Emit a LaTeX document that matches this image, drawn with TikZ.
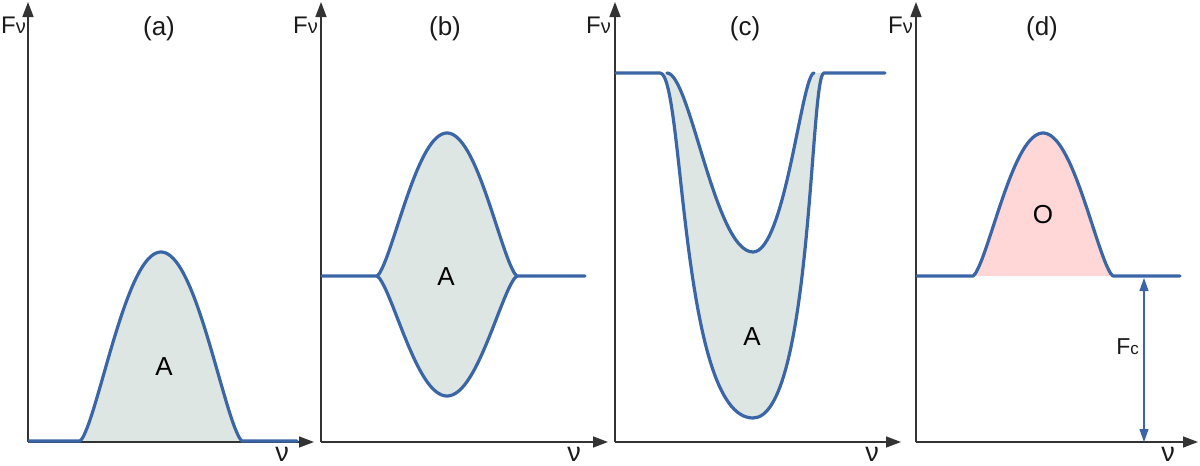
\documentclass[tikz,border=0pt]{standalone}
\usepackage{fontspec}
\setmainfont{Liberation Sans}
\usetikzlibrary{arrows.meta}
\definecolor{lineblue}{HTML}{3A66A7}
\definecolor{fillgrey}{HTML}{DEE6E3}
\definecolor{fillpink}{HTML}{FFD7D7}
\definecolor{axisgrey}{HTML}{333333}
\definecolor{txt}{HTML}{1A1A1A}
\begin{document}
\begin{tikzpicture}[x=1pt,y=-1pt,
  axisline/.style={draw=axisgrey, line width=1.4pt, -{Triangle[length=15pt,width=11pt]}},
  curve/.style={draw=lineblue, line width=3.2pt, line join=round, line cap=round},
  fcarrow/.style={draw=lineblue, line width=1.1pt, {Triangle[length=13pt,width=9pt]}-{Triangle[length=13pt,width=9pt]}},
  paneltitle/.style={font=\fontsize{26}{30}\selectfont, text=txt, inner sep=0pt, anchor=base},
  ylab/.style={font=\fontsize{24}{28}\selectfont, text=txt, inner sep=0pt, anchor=base east},
  xlab/.style={font=\fontsize{27}{30}\selectfont, text=txt, inner sep=0pt, anchor=base},
  area/.style={font=\fontsize{26}{28}\selectfont, text=black, inner sep=0pt},
  smp/.style={samples=60, smooth}
]
\useasboundingbox (0,0) rectangle (1200,466);

% ---------- panel (a) ----------
\coordinate (Oa) at (28,442);
\coordinate (Ya) at (28,2);
\coordinate (Xa) at (314,442);
\fill[fillgrey] plot[smp,domain=-81:81] ({161+\x},{441-189*max(1-(\x/81)*(\x/81),0.0001)^1.5}) -- cycle;
\draw[axisline] (Oa) -- (Ya);
\draw[axisline] (Oa) -- (Xa);
\draw[curve] (29,441) -- plot[smp,domain=-81:81] ({161+\x},{441-189*max(1-(\x/81)*(\x/81),0.0001)^1.5}) -- (297,441);
\node[paneltitle] (ta) at (159,35) {(a)};
\node[ylab] (fa) at (26,33) {F{\fontsize{20}{20}\selectfont ν}};
\node[xlab] (na) at (282,461) {ν};
\node[area] (Aa) at (164,367) {A};

% ---------- panel (b) ----------
\coordinate (Ob) at (321,442);
\coordinate (Yb) at (321,2);
\coordinate (Xb) at (608,442);
\fill[fillgrey] plot[smp,domain=-70:70] ({447+\x},{276-143*max(1-(\x/70)*(\x/70),0.0001)^1.5})
   -- plot[smp,domain=70:-70] ({447+\x},{276+120*max(1-(\x/70)*(\x/70),0.0001)^1.5}) -- cycle;
\draw[axisline] (Ob) -- (Yb);
\draw[axisline] (Ob) -- (Xb);
\draw[curve] (322,276) -- plot[smp,domain=-70:70] ({447+\x},{276-143*max(1-(\x/70)*(\x/70),0.0001)^1.5}) -- (585,276);
\draw[curve] plot[smp,domain=-70:70] ({447+\x},{276+120*max(1-(\x/70)*(\x/70),0.0001)^1.5});
\node[paneltitle] (tb) at (445,35) {(b)};
\node[ylab] (fb) at (318,33) {F{\fontsize{20}{20}\selectfont ν}};
\node[xlab] (nb) at (574,461) {ν};
\node[area] (Ab) at (446,277) {A};

% ---------- panel (c) ----------
\coordinate (Oc) at (615,442);
\coordinate (Yc) at (615,2);
\coordinate (Xc) at (901,442);
\coordinate (cOL) at (660,73);
\coordinate (cOB) at (753,418);
\coordinate (cOR) at (824,73);
\coordinate (cIL) at (667,73);
\coordinate (cIB) at (753,252);
\coordinate (cIR) at (814,73);
\fill[fillgrey]
   (cOL) .. controls (684,73) and (680,418) .. (cOB)
         .. controls (812,418) and (810,73) .. (cOR)
   -- (cIR) .. controls (802,73) and (785,252) .. (cIB)
         .. controls (715,252) and (690,73) .. (cIL)
   -- cycle;
\draw[axisline] (Oc) -- (Yc);
\draw[axisline] (Oc) -- (Xc);
\draw[curve] (616,73) -- (cOL)
   .. controls (684,73) and (680,418) .. (cOB)
   .. controls (812,418) and (810,73) .. (cOR) -- (885,73);
\draw[curve] (cIL) .. controls (690,73) and (715,252) .. (cIB)
   .. controls (785,252) and (802,73) .. (cIR);
\node[paneltitle] (tc) at (745,35) {(c)};
\node[ylab] (fc) at (611,33) {F{\fontsize{20}{20}\selectfont ν}};
\node[xlab] (nc) at (872,461) {ν};
\node[area] (Ac) at (752,337) {A};

% ---------- panel (d) ----------
\coordinate (Od) at (916,442);
\coordinate (Yd) at (916,2);
\coordinate (Xd) at (1198,442);
\fill[fillpink] plot[smp,domain=-70:70] ({1043+\x},{276-143*max(1-(\x/70)*(\x/70),0.0001)^1.5}) -- cycle;
\draw[axisline] (Od) -- (Yd);
\draw[axisline] (Od) -- (Xd);
\draw[curve] (917,276) -- plot[smp,domain=-70:70] ({1043+\x},{276-143*max(1-(\x/70)*(\x/70),0.0001)^1.5}) -- (1180,276);
\coordinate (fctop) at (1144,278);
\coordinate (fcbot) at (1144,442);
\draw[fcarrow] (fctop) -- (fcbot);
\node[paneltitle] (td) at (1042,35) {(d)};
\node[ylab] (fd) at (913,33) {F{\fontsize{20}{20}\selectfont ν}};
\node[xlab] (nd) at (1168,461) {ν};
\node[area] (Od2) at (1043,215) {O};
\node[font=\fontsize{23}{26}\selectfont, text=txt, inner sep=0pt, anchor=base east] (fclab) at (1139,354) {F{\fontsize{17}{19}\selectfont c}};
\end{tikzpicture}
\end{document}
